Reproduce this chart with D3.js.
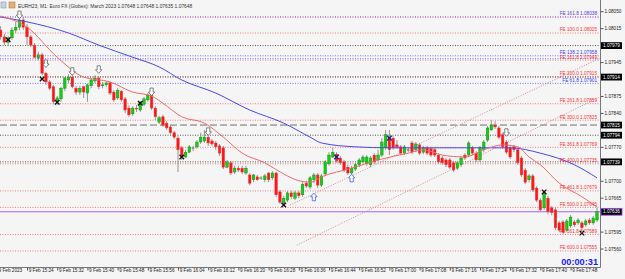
<!DOCTYPE html>
<html><head><meta charset="utf-8">
<script src="https://cdn.jsdelivr.net/npm/d3@7"></script>
<style>html,body{margin:0;padding:0;background:#f5f5f5;overflow:hidden}svg{display:block}</style>
</head><body><svg id="c" width="625" height="279"></svg>
<script>
// ---------- DATA ----------
const title = "EURH23, M1:  Euro FX (Globex): March 2023  1.07648 1.07648 1.07635 1.07648";
const timerText = "00:00:31";
const timeLabels = ["9 Feb 2023","9 Feb 15:24","9 Feb 15:32","9 Feb 15:40","9 Feb 15:48","9 Feb 15:56","9 Feb 16:04","9 Feb 16:12","9 Feb 16:20","9 Feb 16:28","9 Feb 16:36","9 Feb 16:44","9 Feb 16:52","9 Feb 17:00","9 Feb 17:08","9 Feb 17:16","9 Feb 17:24","9 Feb 17:32","9 Feb 17:40","9 Feb 17:48"];
const timeTickBars = [-1,7,15,23,31,39,47,55,63,71,79,87,95,103,111,119,127,135,143,151];
const priceTicks = [1.08050,1.08015,1.07980,1.07945,1.07910,1.07875,1.07840,1.07805,1.07770,1.07735,1.07700,1.07665,1.07630,1.07595,1.07560];
// one-minute candles [open, high, low, close]
const candles = [
[1.08011,1.08019,1.07991,1.07997],[1.07997,1.08003,1.07980,1.07986],[1.07986,1.07999,1.07978,1.07995],[1.07995,1.08017,1.07991,1.08011],
[1.08011,1.08028,1.08005,1.08017],[1.08017,1.08040,1.08011,1.08032],[1.08032,1.08038,1.08011,1.08017],[1.08017,1.08024,1.07980,1.07997],
[1.07997,1.08001,1.07976,1.07980],[1.07980,1.07984,1.07953,1.07955],[1.07953,1.07966,1.07949,1.07960],[1.07960,1.07964,1.07918,1.07922],
[1.07922,1.07925,1.07898,1.07904],[1.07904,1.07908,1.07887,1.07891],[1.07894,1.07898,1.07858,1.07863],[1.07863,1.07875,1.07856,1.07871],
[1.07869,1.07894,1.07863,1.07891],[1.07891,1.07914,1.07885,1.07912],[1.07908,1.07920,1.07902,1.07914],[1.07914,1.07920,1.07891,1.07894],
[1.07891,1.07896,1.07877,1.07883],[1.07883,1.07896,1.07877,1.07891],[1.07894,1.07896,1.07871,1.07883],[1.07881,1.07900,1.07863,1.07898],
[1.07896,1.07912,1.07891,1.07908],[1.07906,1.07918,1.07902,1.07912],[1.07912,1.07916,1.07889,1.07894],[1.07896,1.07904,1.07891,1.07898],
[1.07898,1.07904,1.07894,1.07902],[1.07902,1.07904,1.07877,1.07881],[1.07883,1.07887,1.07863,1.07867],[1.07871,1.07891,1.07867,1.07887],
[1.07885,1.07887,1.07863,1.07867],[1.07869,1.07873,1.07840,1.07846],[1.07850,1.07856,1.07832,1.07836],[1.07838,1.07854,1.07834,1.07850],
[1.07850,1.07856,1.07842,1.07848],[1.07846,1.07865,1.07842,1.07861],[1.07858,1.07873,1.07854,1.07869],[1.07867,1.07881,1.07863,1.07877],
[1.07877,1.07879,1.07846,1.07850],[1.07850,1.07854,1.07825,1.07832],[1.07821,1.07834,1.07817,1.07830],[1.07832,1.07836,1.07811,1.07815],
[1.07819,1.07823,1.07805,1.07809],[1.07811,1.07815,1.07795,1.07799],[1.07799,1.07803,1.07786,1.07790],[1.07788,1.07792,1.07718,1.07764],
[1.07768,1.07772,1.07743,1.07749],[1.07749,1.07764,1.07747,1.07759],[1.07759,1.07774,1.07757,1.07770],[1.07768,1.07772,1.07761,1.07768],
[1.07770,1.07784,1.07766,1.07780],[1.07780,1.07799,1.07776,1.07790],[1.07782,1.07805,1.07778,1.07790],[1.07790,1.07795,1.07772,1.07778],
[1.07782,1.07786,1.07772,1.07776],[1.07778,1.07782,1.07764,1.07770],[1.07772,1.07776,1.07751,1.07757],[1.07768,1.07772,1.07724,1.07728],
[1.07728,1.07743,1.07726,1.07739],[1.07737,1.07741,1.07712,1.07716],[1.07718,1.07731,1.07714,1.07726],[1.07726,1.07731,1.07718,1.07722],
[1.07726,1.07731,1.07714,1.07718],[1.07716,1.07731,1.07712,1.07726],[1.07712,1.07716,1.07691,1.07695],[1.07702,1.07714,1.07697,1.07712],
[1.07708,1.07712,1.07700,1.07702],[1.07706,1.07710,1.07702,1.07706],[1.07702,1.07714,1.07697,1.07710],[1.07716,1.07718,1.07697,1.07702],
[1.07706,1.07720,1.07702,1.07716],[1.07716,1.07718,1.07667,1.07671],[1.07677,1.07681,1.07652,1.07656],[1.07654,1.07669,1.07648,1.07664],
[1.07660,1.07679,1.07656,1.07675],[1.07675,1.07679,1.07662,1.07667],[1.07664,1.07679,1.07660,1.07675],[1.07675,1.07679,1.07664,1.07669],
[1.07671,1.07697,1.07667,1.07693],[1.07695,1.07700,1.07685,1.07689],[1.07687,1.07710,1.07683,1.07706],[1.07702,1.07716,1.07695,1.07712],
[1.07712,1.07716,1.07685,1.07691],[1.07691,1.07714,1.07687,1.07710],[1.07714,1.07743,1.07710,1.07739],[1.07735,1.07759,1.07731,1.07753],
[1.07749,1.07768,1.07747,1.07759],[1.07755,1.07759,1.07737,1.07741],[1.07747,1.07751,1.07733,1.07737],[1.07739,1.07743,1.07718,1.07722],
[1.07728,1.07733,1.07712,1.07716],[1.07716,1.07731,1.07710,1.07726],[1.07724,1.07737,1.07720,1.07733],[1.07733,1.07747,1.07728,1.07743],
[1.07739,1.07753,1.07737,1.07749],[1.07735,1.07753,1.07731,1.07749],[1.07733,1.07751,1.07728,1.07747],[1.07753,1.07757,1.07735,1.07739],
[1.07743,1.07764,1.07741,1.07753],[1.07753,1.07788,1.07749,1.07780],[1.07768,1.07805,1.07764,1.07795],[1.07790,1.07805,1.07753,1.07764],
[1.07788,1.07792,1.07764,1.07768],[1.07774,1.07784,1.07766,1.07770],[1.07770,1.07774,1.07753,1.07757],[1.07757,1.07774,1.07753,1.07770],
[1.07764,1.07768,1.07759,1.07764],[1.07778,1.07782,1.07755,1.07759],[1.07764,1.07780,1.07759,1.07776],[1.07774,1.07778,1.07753,1.07757],
[1.07759,1.07772,1.07755,1.07768],[1.07768,1.07772,1.07753,1.07757],[1.07766,1.07770,1.07749,1.07753],[1.07764,1.07768,1.07749,1.07753],
[1.07753,1.07757,1.07735,1.07739],[1.07747,1.07751,1.07733,1.07737],[1.07743,1.07747,1.07728,1.07733],[1.07743,1.07747,1.07724,1.07728],
[1.07737,1.07741,1.07718,1.07722],[1.07726,1.07741,1.07722,1.07737],[1.07733,1.07751,1.07728,1.07747],[1.07753,1.07757,1.07743,1.07747],
[1.07753,1.07782,1.07749,1.07778],[1.07768,1.07772,1.07753,1.07757],[1.07757,1.07761,1.07739,1.07743],[1.07743,1.07772,1.07739,1.07768],
[1.07764,1.07784,1.07759,1.07780],[1.07784,1.07813,1.07780,1.07809],[1.07805,1.07825,1.07803,1.07815],[1.07815,1.07823,1.07807,1.07811],
[1.07809,1.07813,1.07786,1.07790],[1.07795,1.07799,1.07766,1.07770],[1.07780,1.07784,1.07755,1.07759],[1.07768,1.07772,1.07745,1.07749],
[1.07770,1.07774,1.07759,1.07764],[1.07764,1.07768,1.07733,1.07737],[1.07747,1.07751,1.07708,1.07712],[1.07722,1.07726,1.07693,1.07697],
[1.07702,1.07714,1.07697,1.07710],[1.07710,1.07714,1.07677,1.07681],[1.07685,1.07689,1.07656,1.07660],[1.07660,1.07664,1.07636,1.07640],
[1.07644,1.07681,1.07640,1.07675],[1.07664,1.07669,1.07631,1.07636],[1.07644,1.07648,1.07629,1.07634],[1.07640,1.07644,1.07598,1.07603],
[1.07613,1.07617,1.07594,1.07598],[1.07615,1.07619,1.07590,1.07594],[1.07598,1.07621,1.07594,1.07617],[1.07607,1.07629,1.07603,1.07625],
[1.07615,1.07619,1.07605,1.07609],[1.07613,1.07623,1.07609,1.07619],[1.07613,1.07617,1.07590,1.07603],[1.07609,1.07621,1.07605,1.07617],
[1.07619,1.07623,1.07609,1.07613],[1.07613,1.07627,1.07609,1.07623],[1.07619,1.07644,1.07615,1.07636]
];
// moving averages sampled at bar indices: [bar, price]
const maFast = [[0,1.08040],[7,1.08017],[15,1.07955],[22,1.07914],[29,1.07904],[35,1.07883],[40,1.07875],[43,1.07860],[48,1.07832],[54,1.07819],[59,1.07790],[64,1.07757],[70,1.07737],[75,1.07714],[79,1.07700],[82,1.07697],[85,1.07708],[93,1.07726],[100,1.07743],[108,1.07757],[112,1.07764],[117,1.07753],[123,1.07749],[128,1.07764],[133,1.07774],[137,1.07770],[140,1.07749],[143,1.07733],[148,1.07695],[154,1.07667],[158,1.07646]];
const maSlow = [[0,1.08038],[7,1.08028],[18,1.08005],[26,1.07980],[35,1.07955],[42,1.07935],[48,1.07908],[57,1.07881],[66,1.07846],[75,1.07819],[82,1.07790],[85,1.07778],[94,1.07770],[103,1.07768],[130,1.07768],[135,1.07768],[143,1.07757],[152,1.07733],[158,1.07706]];
// Fibonacci expansion levels
const feRed = [["100.0",1.08005],["161.8",1.07949],["200.0",1.07915],["261.8",1.07859],["300.0",1.07825],["361.8",1.07769],["400.0",1.07735],["461.8",1.07679],["500.0",1.07645],["561.8",1.07589],["600.0",1.07555]];
const feBlue = [["138.2",1.07958],["61.8",1.07901]];
const feTop = [["161.8",1.08038]];
const extraBlueLevels = [1.07952];
// horizontal lines with price boxes
const hLevels = [[1.07979,"dot"],[1.07914,"dot"],[1.07815,"dash"],[1.07794,"dot"],[1.07739,"dot"]];
const bidPrice = 1.07636;
// trend channel lines [bar, price] -> [bar, price]
const trendLines = [[[76.7,1.07650],[158.8,1.07953]],[[78.5,1.07567],[158.8,1.07873]]];
// signal markers [bar, price]
const downArrows = [[5,1.08042],[12,1.07941],[19,1.07925],[26,1.07929],[40,1.07883],[55,1.07801],[134,1.07799]];
const upArrows = [[83,1.07667],[93,1.07706]];
const crossBlack = [[2,1.07991],[11,1.07910],[15,1.07862],[37,1.07860],[48,1.07749],[75,1.07650],[144,1.07677],[154,1.07592]];
const crossBlue = [[89,1.07749],[103,1.07788]];

// ---------- CHART ----------
const svg = d3.select("#c");
const W = 625, H = 279, plotR = 600, plotB = 267.5;
svg.append("rect").attr("width",W).attr("height",H).attr("fill","#f5f5f5");
const x = d3.scaleLinear().domain([0,158]).range([0.6,597]);
const y = d3.scaleLinear().domain([1.07555,1.08005]).range([251,33]);
const FONT = "'Liberation Sans', Arial, sans-serif";
const plot = svg.append("g");
plot.append("defs").append("clipPath").attr("id","pc").append("rect").attr("x",0).attr("y",0).attr("width",plotR).attr("height",plotB);
const g = plot.append("g").attr("clip-path","url(#pc)");

function hline(p, color, dash, w){
  g.append("line").attr("x1",0).attr("x2",plotR).attr("y1",y(p)).attr("y2",y(p))
   .attr("stroke",color).attr("stroke-width",w||1).attr("stroke-dasharray",dash||null);
}
feTop.forEach(d=>hline(d[1],"#9a20b0","1,1.5"));
feRed.forEach(d=>hline(d[1],"#f47a7a","1,1.5"));
feBlue.forEach(d=>hline(d[1],"#7878ff","1,1.5"));
extraBlueLevels.forEach(p=>hline(p,"#7878ff","1,1.5"));
hLevels.forEach(d=>hline(d[0],d[1]==="dash"?"#707070":"#555", d[1]==="dash"?"7,3":"1,1.5"));
hline(bidPrice,"#b060f0",null,1);

trendLines.forEach(t=>{
  g.append("line").attr("x1",x(t[0][0])).attr("y1",y(t[0][1])).attr("x2",x(t[1][0])).attr("y2",y(t[1][1]))
   .attr("stroke","#e08a8a").attr("stroke-width",1).attr("stroke-dasharray","1,1.5");
});

// candles
const bw = 2.6;
const cg = g.append("g");
cg.selectAll("line.w").data(candles).join("line").attr("class","w")
  .attr("x1",(d,i)=>x(i)).attr("x2",(d,i)=>x(i)).attr("y1",d=>y(d[1])).attr("y2",d=>y(d[2]))
  .attr("stroke","#8a8a8a").attr("stroke-width",0.9);
cg.selectAll("rect.b").data(candles).join("rect").attr("class","b")
  .attr("x",(d,i)=>x(i)-bw/2).attr("width",bw)
  .attr("y",d=>y(Math.max(d[0],d[3])))
  .attr("height",d=>Math.max(0.8,Math.abs(y(d[0])-y(d[3]))))
  .attr("fill",d=>d[3]>d[0]?"#14cc14":(d[3]<d[0]?"#ff1515":"#888"))
  .attr("stroke",d=>d[3]>d[0]?"#0c8c0c":(d[3]<d[0]?"#e04848":"#888"))
  .attr("stroke-width",0.4);

const line = d3.line().x(d=>x(d[0])).y(d=>y(d[1])).curve(d3.curveMonotoneX);
g.append("path").datum(maSlow).attr("d",line).attr("fill","none").attr("stroke","#4848f0").attr("stroke-width",1);
g.append("path").datum(maFast).attr("d",line).attr("fill","none").attr("stroke","#f06a6a").attr("stroke-width",1);

function cross(d,color){
  const cx=x(d[0]), cy=y(d[1]), s=2.3;
  g.append("path").attr("d",`M${cx-s},${cy-s}L${cx+s},${cy+s}M${cx+s},${cy-s}L${cx-s},${cy+s}`)
   .attr("stroke",color).attr("stroke-width",1.3).attr("fill","none");
}
crossBlack.forEach(d=>cross(d,"#111"));
crossBlue.forEach(d=>cross(d,"#1c1c8a"));
function arrow(d,dir,color){
  const cx=x(d[0]), cy=y(d[1]);
  const s = dir;
  const p = [[cx-1.6,cy-4*s],[cx+1.6,cy-4*s],[cx+1.6,cy],[cx+3.2,cy],[cx,cy+3.5*s],[cx-3.2,cy],[cx-1.6,cy]];
  g.append("path").attr("d","M"+p.map(q=>q.join(",")).join("L")+"Z")
   .attr("fill","#fff").attr("stroke",color).attr("stroke-width",0.8);
}
downArrows.forEach(d=>arrow(d,1,"#666"));
upArrows.forEach(d=>arrow(d,-1,"#3d5cff"));

const lab = svg.append("g").attr("font-family",FONT).attr("font-size",4.7).attr("text-anchor","end");
feTop.forEach(d=>lab.append("text").attr("x",597).attr("y",y(d[1])-1.6).attr("fill","#5a3ae0").text("FE "+d[0]+" "+d[1].toFixed(5)));
feRed.forEach(d=>lab.append("text").attr("x",597).attr("y",y(d[1])-1.6).attr("fill","#ff3030").text("FE "+d[0]+" "+d[1].toFixed(5)));
feBlue.forEach(d=>lab.append("text").attr("x",597).attr("y",y(d[1])-1.6).attr("fill","#3a3aff").text("FE "+d[0]+" "+d[1].toFixed(5)));

// axes
const ax = svg.append("g").attr("font-family",FONT);
ax.append("line").attr("x1",plotR+0.5).attr("x2",plotR+0.5).attr("y1",0).attr("y2",plotB).attr("stroke","#777");
ax.append("line").attr("x1",0).attr("x2",plotR+0.5).attr("y1",plotB).attr("y2",plotB).attr("stroke","#777");
const boxPrices = hLevels.map(d=>d[0]).concat([bidPrice]);
const shownTicks = priceTicks.filter(t=>boxPrices.every(b=>Math.abs(y(t)-y(b))>6.5));
const yAxis = d3.axisRight(y).tickValues(shownTicks).tickSize(3).tickPadding(1).tickFormat(d3.format(".5f"));
const ya = ax.append("g").attr("transform",`translate(${plotR+0.5},0)`).call(yAxis);
ya.select(".domain").remove();
ya.selectAll("line").attr("stroke","#555");
ya.selectAll("text").attr("font-size",4.7).attr("fill","#222").attr("font-family",FONT);
const xAxis = d3.axisBottom(x).tickValues(timeTickBars).tickSize(3).tickFormat((d,i)=>timeLabels[i]);
const xa = ax.append("g").attr("transform",`translate(0,${plotB})`).call(xAxis);
xa.select(".domain").remove();
xa.selectAll("line").attr("stroke","#555");
xa.selectAll("text").attr("font-size",4.7).attr("fill","#222").attr("font-family",FONT)
  .attr("text-anchor","start").attr("dx",1.2).attr("dy",0).attr("y",4.8);

function box(p, stroke){
  const yy = y(p);
  ax.append("rect").attr("x",plotR+1).attr("y",yy-3.4).attr("width",21).attr("height",6.8)
    .attr("fill","#000").attr("stroke",stroke||"none").attr("stroke-width",0.8);
  ax.append("text").attr("x",plotR+3).attr("y",yy+1.7).attr("font-size",4.7).attr("fill","#fff").text(p.toFixed(5));
}
hLevels.forEach(d=>box(d[0]));
box(bidPrice,"#a040ff");

svg.append("rect").attr("x",1).attr("y",2).attr("width",5).attr("height",6).attr("fill","#c9d3e2").attr("stroke","#7a8aa6").attr("stroke-width",0.5);
svg.append("rect").attr("x",9).attr("y",2).attr("width",6).attr("height",6).attr("fill","#e8b070").attr("stroke","#a07040").attr("stroke-width",0.5);
svg.append("text").attr("x",18).attr("y",7.6).attr("font-family",FONT).attr("font-size",4.9).attr("fill","#333").text(title);

svg.append("text").attr("x",598).attr("y",264.6).attr("text-anchor","end").attr("font-family",FONT)
  .attr("font-weight","bold").attr("font-size",9.2).attr("fill","#1a1aff").text(timerText);
</script></body></html>
